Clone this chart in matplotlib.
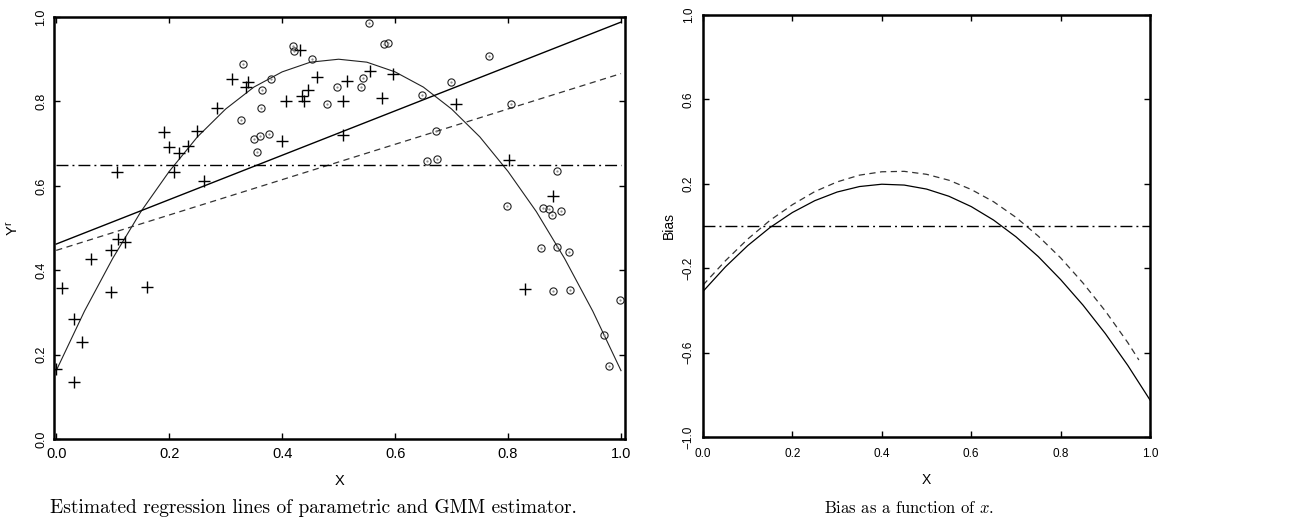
import matplotlib
matplotlib.use('Agg')
import matplotlib.pyplot as plt

plt.rcParams['font.family'] = ['Liberation Sans', 'DejaVu Sans']
plt.rcParams['mathtext.fontset'] = 'cm'

# ---- left panel data ----
plus_x = [0.0, 0.011, 0.032, 0.046, 0.032, 0.062, 0.097, 0.097, 0.110, 0.122,
          0.161, 0.108, 0.191, 0.200, 0.218, 0.233, 0.209, 0.250, 0.262, 0.285,
          0.312, 0.336, 0.340, 0.432, 0.462, 0.446, 0.435, 0.439, 0.407, 0.400,
          0.515, 0.508, 0.508, 0.556, 0.597, 0.577, 0.708, 0.802, 0.880, 0.830]
plus_y = [0.165, 0.358, 0.285, 0.231, 0.136, 0.426, 0.348, 0.447, 0.475, 0.468,
          0.360, 0.633, 0.727, 0.692, 0.678, 0.694, 0.633, 0.729, 0.612, 0.784,
          0.852, 0.835, 0.847, 0.922, 0.859, 0.826, 0.812, 0.800, 0.800, 0.706,
          0.849, 0.800, 0.720, 0.873, 0.866, 0.809, 0.795, 0.661, 0.576, 0.355]

circ_x = [0.420, 0.421, 0.554, 0.581, 0.588, 0.453, 0.331, 0.381, 0.365, 0.363,
          0.327, 0.351, 0.361, 0.377, 0.356, 0.497, 0.543, 0.540, 0.480, 0.648,
          0.699, 0.766, 0.805, 0.673, 0.674, 0.657, 0.887, 0.798, 0.862, 0.873,
          0.878, 0.894, 0.858, 0.887, 0.908, 0.880, 0.910, 0.998, 0.970, 0.979]
circ_y = [0.932, 0.920, 0.986, 0.936, 0.939, 0.901, 0.889, 0.854, 0.826, 0.784,
          0.755, 0.711, 0.718, 0.722, 0.680, 0.833, 0.856, 0.835, 0.793, 0.816,
          0.847, 0.908, 0.795, 0.729, 0.664, 0.659, 0.635, 0.553, 0.548, 0.546,
          0.532, 0.541, 0.452, 0.456, 0.442, 0.351, 0.353, 0.329, 0.247, 0.172]

curve_x = [0.0, 0.05, 0.10, 0.15, 0.20, 0.25, 0.30, 0.35, 0.40, 0.45, 0.50,
           0.55, 0.60, 0.65, 0.70, 0.75, 0.80, 0.85, 0.90, 0.95, 1.0]
true_y = [0.162, 0.303, 0.428, 0.539, 0.634, 0.716, 0.782, 0.834, 0.870, 0.893, 0.900,
          0.893, 0.870, 0.834, 0.782, 0.716, 0.634, 0.539, 0.428, 0.303, 0.162]

line_x = [0.0, 1.0]
param_y = [0.462, 0.988]
gmm_y = [0.447, 0.866]
mean_y = [0.65, 0.65]

# ---- right panel data ----
bias_param = [-0.31, -0.194, -0.093, -0.007, 0.064, 0.120, 0.161, 0.187, 0.198, 0.194, 0.175,
              0.141, 0.092, 0.028, -0.051, -0.145, -0.254, -0.375, -0.510, -0.660, -0.825]
bias_gmm_x = curve_x[:-1] + [0.975]
bias_gmm = [-0.28, -0.165, -0.062, 0.027, 0.101, 0.163, 0.209, 0.241, 0.257, 0.259, 0.245,
            0.217, 0.173, 0.115, 0.041, -0.048, -0.151, -0.270, -0.403, -0.552, -0.635]
zero_y = [0.0, 0.0]

fig = plt.figure(figsize=(13.16, 5.19), dpi=100)
ax1 = fig.add_axes([0.0410, 0.1541, 0.4339, 0.8131])
ax2 = fig.add_axes([0.5342, 0.1580, 0.3397, 0.8131])

ax1.plot(curve_x, true_y, color='#222222', lw=0.8)
ax1.plot(line_x, param_y, color='black', lw=1.0)
ax1.plot(line_x, gmm_y, color='#333333', lw=0.9, dashes=(5, 3.6))
ax1.plot(line_x, mean_y, color='black', lw=1.0, dashes=(8.6, 2.9, 1.4, 2.9))
ax1.plot(plus_x, plus_y, ls='none', marker='+', ms=8, mew=1.0, color='black')
ax1.plot(circ_x, circ_y, ls='none', marker='o', ms=5.2, mew=0.8, mfc='none', mec='#222222')
ax1.plot(circ_x, circ_y, ls='none', marker='.', ms=1.2, color='#888888')
ax1.set_xlim(-0.004, 1.007)
ax1.set_ylim(0.007, 1.0)
ax1.set_xticks([0.0, 0.2, 0.4, 0.6, 0.8, 1.0])
ax1.set_yticks([0.0, 0.2, 0.4, 0.6, 0.8, 1.0])
ax1.set_xlabel('X', fontsize=10.5, labelpad=9)
ax1.set_ylabel('Y$^{\\mathregular{r}}$', fontsize=10.5, labelpad=10)

ax2.plot(curve_x, bias_param, color='black', lw=0.9)
ax2.plot(bias_gmm_x, bias_gmm, color='#333333', lw=0.9, dashes=(5, 3.6))
ax2.plot(line_x, zero_y, color='black', lw=1.0, dashes=(8.6, 2.9, 1.4, 2.9))
ax2.set_xlim(0.0, 1.0)
ax2.set_ylim(-1.0, 1.0)
ax2.set_xticks([0.0, 0.2, 0.4, 0.6, 0.8, 1.0])
ax2.set_yticks([-1.0, -0.6, -0.2, 0.2, 0.6, 1.0])
ax2.set_xlabel('X', fontsize=10, labelpad=9)
ax2.set_ylabel('Bias', fontsize=10, labelpad=5)

for ax, xs, ys, xp, yp in [(ax1, 10.5, 9, 6, 5), (ax2, 8.5, 8.5, 8, 6)]:
    for s in ax.spines.values():
        s.set_linewidth(1.8)
    ax.tick_params(direction='in', top=True, right=True, length=4, width=1.0)
    ax.tick_params(axis='x', labelsize=xs, pad=xp)
    ax.tick_params(axis='y', labelsize=ys, pad=yp)
    for lab in ax.get_yticklabels():
        lab.set_rotation(90)
        lab.set_va('center')

fig.text(0.238, 0.021, 'Estimated regression lines of parametric and GMM estimator.',
         family='cmr10', fontsize=14, ha='center', va='center')
fig.text(0.691, 0.021, 'Bias as a function of $x$.',
         family='cmr10', fontsize=12, ha='center', va='center')

fig.savefig('out.png', dpi=100)
